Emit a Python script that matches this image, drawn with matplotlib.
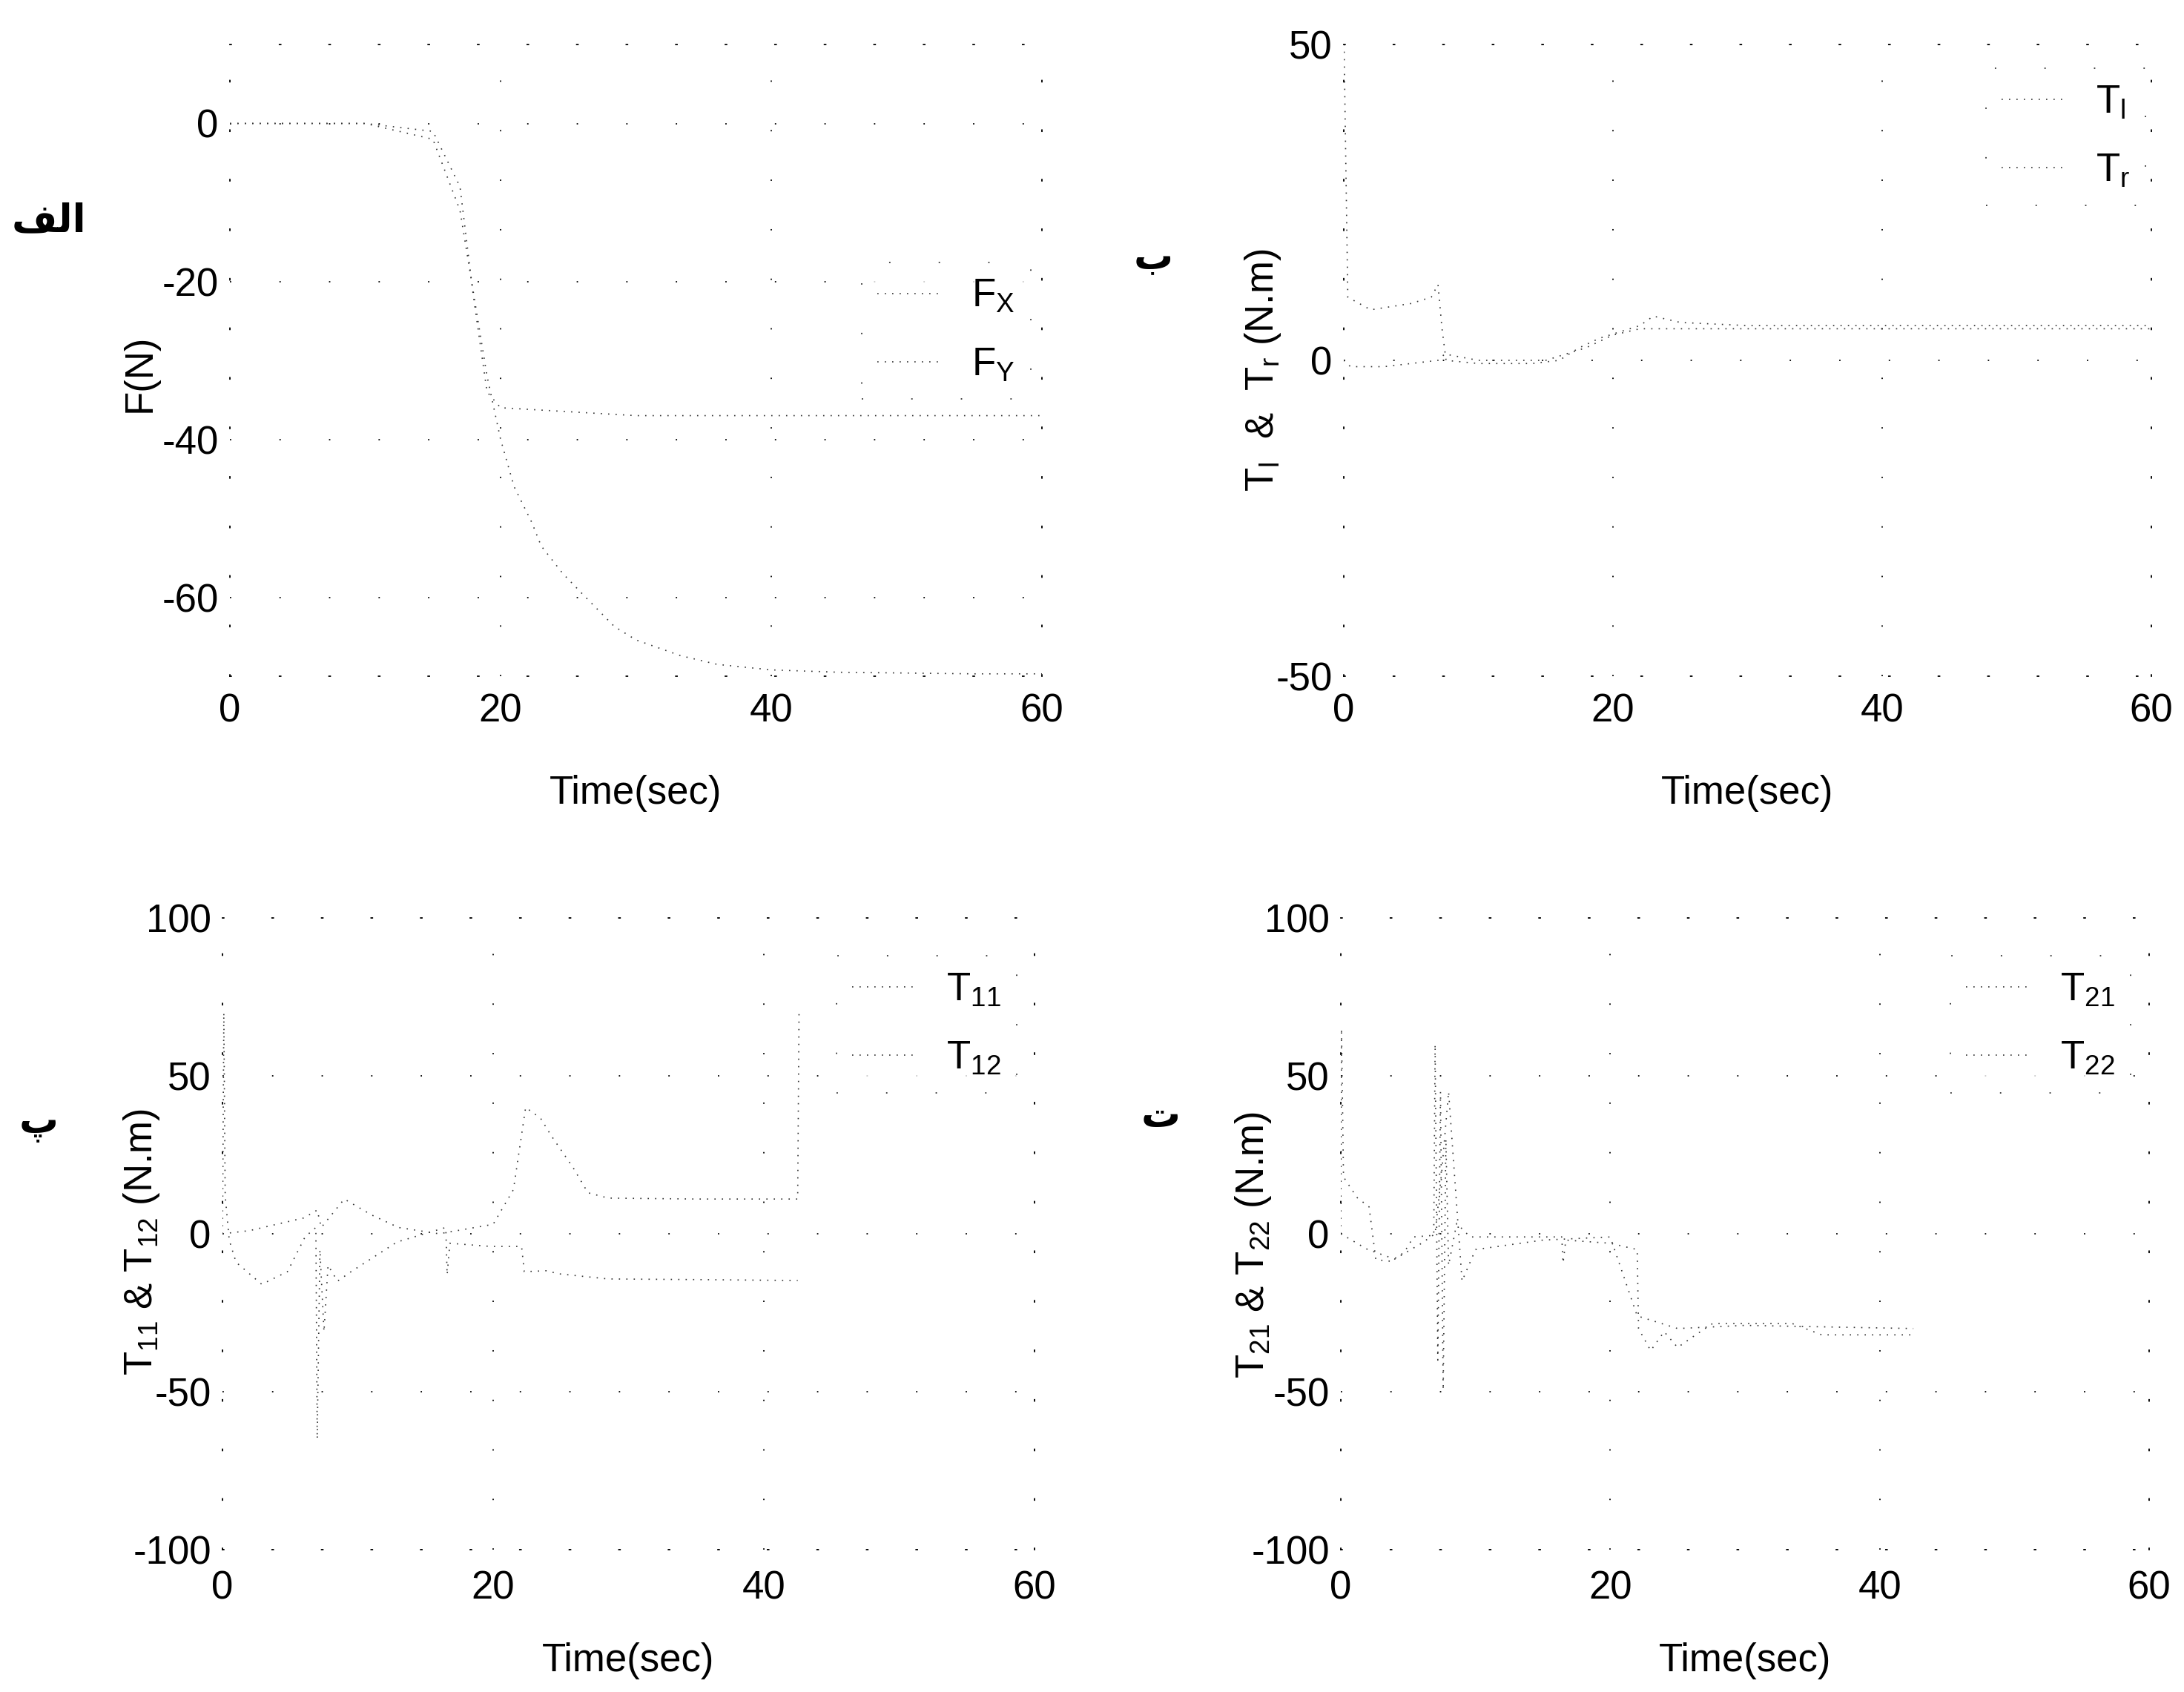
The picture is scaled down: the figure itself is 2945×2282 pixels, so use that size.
#!/usr/bin/env python3
# plot.py
# Four-panel force / torque time histories (scanned MATLAB figure look)

import matplotlib

matplotlib.use("Agg")
import matplotlib.pyplot as plt

plt.rcParams["font.family"] = ["Liberation Sans", "DejaVu Sans"]
plt.rcParams["mathtext.fontset"] = "custom"
plt.rcParams["mathtext.rm"] = "Liberation Sans"
plt.rcParams["mathtext.it"] = "Liberation Sans"
plt.rcParams["axes.unicode_minus"] = False

# Panel a: forces (N)
t_fx = [0, 5, 10, 15, 17, 19, 20, 21, 22.3, 23, 24.6, 26, 28.4, 30, 33.3, 36, 40, 45, 50, 55, 60]
f_x = [0, 0, 0, -2, -11, -32, -40, -46, -50.5, -53.5, -57, -59.5, -63.7, -65.4, -67.4,
       -68.5, -69.2, -69.5, -69.6, -69.7, -69.7]
t_fy = [0, 10, 15, 17, 18, 19, 20, 25, 30, 40, 50, 60]
f_y = [0, 0, -1, -8, -22, -34, -36, -36.5, -37, -37, -37, -37]

# Panel b: wheel torques T_l, T_r (N.m)
t_tl = [0, 0.02, 0.3, 2, 5, 6.5, 7, 7.3, 7.6, 10, 14, 16, 17.5, 19, 20.5, 22, 23, 25, 30, 40, 50, 60]
t_l = [50, 50, 10, 8, 9, 10, 12, 5, 0, -0.5, -0.5, 0, 2, 3.5, 4.5, 5.5, 7, 6, 5.5, 5.5, 5.5, 5.5]
t_tr = [0, 0.5, 3, 7, 7.5, 10, 15, 16.5, 18, 20, 22, 25, 30, 40, 50, 60]
t_r = [0, -1, -1, 0, 1, 0, 0, 1, 2, 4, 5, 5, 5, 5, 5, 5]

# Panel c: joint torques T_11, T_12 (N.m)
t_11 = [0, 0.1, 0.2, 0.5, 1, 2.9, 4.8, 6.1, 6.9, 7.0, 7.2, 7.5, 7.8, 8.5, 9.5, 12.9, 16.5,
        16.6, 16.8, 19.8, 22.1, 22.3, 23.9, 24.9, 28.5, 35, 42.5]
tq_11 = [0, 70, 12, -2, -9, -16, -12, -1, 2, -65, -5, -31, -10, -15, -12, -2.6, 2,
         -13, -3, -4, -4, -12, -11.7, -12.7, -14.3, -14.5, -14.8]
t_12 = [0, 2, 4, 6, 7, 7.3, 9, 11, 13, 16, 20, 21.5, 22.4, 23.5, 24.3, 25.9, 27, 28.5,
        35, 42.5, 42.6]
tq_12 = [0, 1, 3, 5, 7.5, 2, 11, 6, 2, 0, 3, 14, 40, 36.6, 31, 21, 13, 11.3, 11, 11, 70]

# Panel d: joint torques T_21, T_22 (N.m)
t_21 = [0, 0.05, 0.2, 1.2, 2.1, 2.6, 3.7, 4.7, 5.4, 6.9, 7.0, 7.2, 7.4, 7.6, 7.8, 8.0,
        8.6, 9.6, 11.1, 16.4, 16.5, 16.7, 20, 22, 22.1, 23, 24, 25, 26, 27.6, 33.5, 35.7, 42.5]
tq_21 = [0, 65, 18, 11.5, 8.5, -8.2, -8.7, -5.9, -1, -0.5, 60, -40, 45, -49.5, 30, -10,
         3.3, -1, -1, -1, -9.3, -2, -3, -5, -30, -37, -31, -36, -33, -28.4, -28.4, -32, -32]
t_22 = [0, 2, 4, 6, 7, 7.5, 8, 9, 10, 15, 20, 22, 25, 30, 42.5]
tq_22 = [0, -5, -8, -3, 0, 20, 45, -15, -5, -2, -1, -26, -30, -29, -30]

x_ticks = [0, 20, 40, 60]

SPARSE = (0, (1, 36))
TRACE = (0, (1, 5))
FS = 38


def style_axes(ax, ylim, yticks, ylabel, ylab_xy, xlab_y, xpad):
    ax.set_xlim(0, 60)
    ax.set_ylim(*ylim)
    ax.set_xticks(x_ticks)
    ax.set_yticks(yticks)
    ax.tick_params(axis="both", length=0, labelsize=FS)
    ax.tick_params(axis="y", pad=11)
    ax.tick_params(axis="x", pad=xpad)
    ax.grid(True, color="k", linestyle=SPARSE, linewidth=1.3)
    for sp in ax.spines.values():
        sp.set_linestyle(SPARSE)
        sp.set_linewidth(1.3)
    ax.set_xlabel("Time(sec)", fontsize=FS, va="center")
    ax.xaxis.set_label_coords(0.5, xlab_y)
    ax.set_ylabel(ylabel, fontsize=FS, va="center")
    ax.yaxis.set_label_coords(*ylab_xy)


def add_legend(ax, lines, labels, anchor):
    leg = ax.legend(lines, labels, loc="upper right", bbox_to_anchor=anchor,
                    fontsize=FS, handlelength=1.6, labelspacing=0.8,
                    borderaxespad=0, fancybox=False)
    leg.get_frame().set_linestyle(SPARSE)
    leg.get_frame().set_edgecolor("k")
    leg.get_frame().set_linewidth(1.3)


W, H = 2945, 2282
fig = plt.figure(figsize=(W / 100, H / 100), dpi=100)

ax1 = fig.add_axes([310 / W, 1 - 912 / H, 1095 / W, 852 / H])
ax2 = fig.add_axes([1812 / W, 1 - 912 / H, 1089 / W, 852 / H])
ax3 = fig.add_axes([300 / W, 1 - 2090 / H, 1095 / W, 852 / H])
ax4 = fig.add_axes([1808 / W, 1 - 2090 / H, 1090 / W, 852 / H])

kw = dict(color="0.2", linewidth=1.2, linestyle=TRACE)

# a
l1, = ax1.plot(t_fx, f_x, **kw)
l2, = ax1.plot(t_fy, f_y, **kw)
style_axes(ax1, (-70, 10), [-60, -40, -20, 0], "F(N)", (-0.111, 0.48), -0.185, 16)
add_legend(ax1, [l1, l2], [r"F$_{\mathrm{X}}$", r"F$_{\mathrm{Y}}$"], (0.986, 0.655))

# b
l1, = ax2.plot(t_tl, t_l, **kw)
l2, = ax2.plot(t_tr, t_r, **kw)
style_axes(ax2, (-50, 50), [-50, 0, 50], r"T$_{\mathrm{l}}$  &  T$_{\mathrm{r}}$ (N.m)",
           (-0.100, 0.485), -0.185, 16)
add_legend(ax2, [l1, l2], [r"T$_{\mathrm{l}}$", r"T$_{\mathrm{r}}$"], (0.993, 0.962))

# c
l1, = ax3.plot(t_11, tq_11, **kw)
l2, = ax3.plot(t_12, tq_12, **kw)
style_axes(ax3, (-100, 100), [-100, -50, 0, 50, 100],
           r"T$_{\mathrm{11}}$ & T$_{\mathrm{12}}$ (N.m)", (-0.0995, 0.487), -0.176, 20)
add_legend(ax3, [l1, l2], [r"T$_{\mathrm{11}}$", r"T$_{\mathrm{12}}$"], (0.978, 0.94))

# d
l1, = ax4.plot(t_21, tq_21, **kw)
l2, = ax4.plot(t_22, tq_22, **kw)
style_axes(ax4, (-100, 100), [-100, -50, 0, 50, 100],
           r"T$_{\mathrm{21}}$ & T$_{\mathrm{22}}$ (N.m)", (-0.108, 0.482), -0.176, 20)
add_legend(ax4, [l1, l2], [r"T$_{\mathrm{21}}$", r"T$_{\mathrm{22}}$"], (0.977, 0.94))

# panel letters (Persian); "الف" given in presentation forms so it reads right-to-left
fig.text(66 / W, 1 - 297 / H, "\ufed2\ufedf\ufe8d", fontsize=FS, fontweight="bold",
         family="DejaVu Sans", ha="center", va="center")
fig.text(1555 / W, 1 - 348 / H, "ب", fontsize=FS, fontweight="bold",
         family="DejaVu Sans", ha="center", va="center")
fig.text(52 / W, 1 - 1515 / H, "پ", fontsize=FS, fontweight="bold",
         family="DejaVu Sans", ha="center", va="center")
fig.text(1565 / W, 1 - 1505 / H, "ت", fontsize=FS, fontweight="bold",
         family="DejaVu Sans", ha="center", va="center")

fig.savefig("out.png", dpi=100)
plt.close(fig)
